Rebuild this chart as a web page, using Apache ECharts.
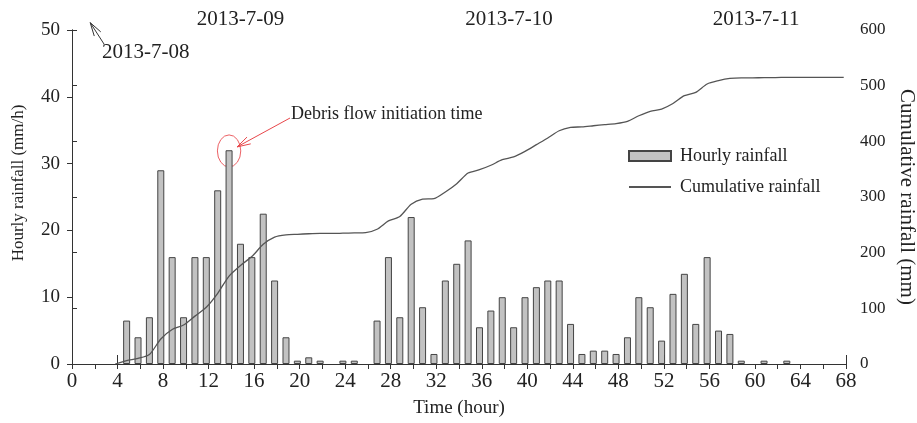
<!DOCTYPE html>
<html>
<head>
<meta charset="utf-8">
<title>Hourly and cumulative rainfall</title>
<script src="https://cdn.jsdelivr.net/npm/echarts@6/dist/echarts.min.js"></script>
<style>
    html, body { margin: 0; padding: 0; background: #fff; }
    #main { width: 917px; height: 423px; }
</style>
</head>
<body>
<div id="main"></div>
<script>
// hourly rainfall bars (hour index, mm/h); empty hours left out
var hours = [5, 6, 7, 8, 9, 10, 11, 12, 13, 14, 15, 16, 17, 18, 19, 20, 21, 22, 24, 25,
    27, 28, 29, 30, 31, 32, 33, 34, 35, 36, 37, 38, 39, 40, 41, 42, 43, 44, 45, 46,
    47, 48, 49, 50, 51, 52, 53, 54, 55, 56, 57, 58, 59, 61, 63];
var hourly = [6.5, 4, 7, 29, 16, 7, 16, 16, 26, 32, 18, 16, 22.5, 12.5, 4, 0.5, 1, 0.5, 0.5, 0.5,
    6.5, 16, 7, 22, 8.5, 1.5, 12.5, 15, 18.5, 5.5, 8, 10, 5.5, 10, 11.5, 12.5, 12.5, 6, 1.5, 2,
    2, 1.5, 4, 10, 8.5, 3.5, 10.5, 13.5, 6, 16, 5, 4.5, 0.5, 0.5, 0.5];

// cumulative rainfall curve (mm), hours 4..68
var cumHours = [4, 5, 6, 7, 8, 9, 10, 11, 12, 13, 14, 15, 16, 17, 18, 19, 20, 21, 22, 23,
    24, 25, 26, 27, 28, 29, 30, 31, 32, 33, 34, 35, 36, 37, 38, 39, 40, 41, 42, 43,
    44, 45, 46, 47, 48, 49, 50, 51, 52, 53, 54, 55, 56, 57, 58, 59, 60, 61, 62, 63,
    64, 65, 66, 67, 68];
var cumulative = [0, 6, 10, 17, 45, 62, 70, 86, 102, 127, 158, 177, 193, 215, 228, 232, 233, 234, 234.5, 234.5,
    235, 235.5, 236, 242, 257, 265, 287, 296, 297, 309, 324, 343, 349, 357, 367, 372, 382, 394, 406, 419,
    425, 426, 428, 430, 432, 436, 446, 454, 458, 468, 482, 488, 503, 509, 513, 514, 514, 514.5, 514.5, 515,
    515, 515, 515, 515, 515];

// date strip on the top axis
var dateLabels = ['2013-7-09', '2013-7-10', '2013-7-11'];
var dateLabelAt = [14.8, 38.4, 60.1];
var dateBounds = [0, 4, 28, 52, 68];

var shift = 0.2;   // marks sit a little left of the hour tick in the original
var serif = '"Liberation Serif", "Times New Roman", serif';
var ink = '#222';
var axisColor = '#333';

var barData = hours.map(function (h, i) { return [h - shift, hourly[i]]; });
var lineData = cumHours.map(function (h, i) { return [h - shift, cumulative[i]]; });

var chart = echarts.init(document.getElementById('main'));

var option = {
    animation: false,
    backgroundColor: '#fff',
    grid: { left: 72, right: 71, top: 30, bottom: 59, containLabel: false, outerBoundsMode: 'none' },
    legend: {
        orient: 'vertical',
        left: 628,
        top: 147,
        padding: 0,
        itemWidth: 42,
        itemHeight: 10,
        itemGap: 13,
        textStyle: { fontFamily: serif, fontSize: 18, color: ink, padding: [0, 0, 0, 4] },
        data: [
            { name: 'Hourly rainfall', icon: 'rect' },
            { name: 'Cumulative rainfall', itemStyle: { opacity: 0 } }
        ]
    },
    xAxis: [
        {
            type: 'value', min: 0, max: 68, interval: 4, position: 'bottom',
            name: 'Time (hour)', nameLocation: 'middle', nameGap: 35,
            nameTextStyle: { fontFamily: serif, fontSize: 19, color: ink },
            axisLine: { lineStyle: { color: axisColor, width: 1 } },
            axisTick: { length: 5, lineStyle: { color: axisColor } },
            minorTick: { show: true, splitNumber: 2, length: 5, lineStyle: { color: axisColor } },
            axisLabel: { fontFamily: serif, fontSize: 21, color: ink, margin: 7 },
            splitLine: { show: false }
        },
        {
            type: 'value', min: 0, max: 68, position: 'top',
            axisLine: { lineStyle: { color: axisColor, width: 1 } },
            axisTick: { customValues: dateBounds, length: 9, lineStyle: { color: axisColor } },
            axisLabel: {
                customValues: dateLabelAt, fontFamily: serif, fontSize: 21, color: ink, margin: 0,
                formatter: function (v) { return dateLabels[dateLabelAt.indexOf(v)]; }
            },
            splitLine: { show: false }
        }
    ],
    yAxis: [
        {
            type: 'value', min: 0, max: 50, interval: 10, position: 'left',
            name: 'Hourly rainfall (mm/h)', nameLocation: 'middle', nameGap: 45,
            nameTextStyle: { fontFamily: serif, fontSize: 17, color: ink, padding: [0, 0, 0, 28] },
            axisLine: { show: true, lineStyle: { color: axisColor, width: 1 } },
            axisTick: { show: true, length: 5, lineStyle: { color: axisColor } },
            axisLabel: { fontFamily: serif, fontSize: 19, color: ink, margin: 12 },
            splitLine: { show: false }
        },
        {
            type: 'value', min: 0, max: 600, interval: 100, position: 'right',
            name: 'Cumulative rainfall (mm)', nameLocation: 'middle', nameGap: 48, nameRotate: -90,
            nameTextStyle: { fontFamily: serif, fontSize: 21, color: ink },
            axisLine: { show: true, lineStyle: { color: axisColor, width: 1 } },
            axisTick: { show: true, length: 5, lineStyle: { color: axisColor } },
            axisLabel: { fontFamily: serif, fontSize: 17, color: ink, margin: 14 },
            splitLine: { show: false }
        }
    ],
    series: [
        {
            name: 'Hourly rainfall',
            type: 'bar',
            xAxisIndex: 0,
            yAxisIndex: 0,
            barWidth: 7,
            itemStyle: { color: '#c2c2c2', borderColor: '#444', borderWidth: 1 },
            data: barData
        },
        {
            name: 'Cumulative rainfall',
            type: 'line',
            xAxisIndex: 0,
            yAxisIndex: 1,
            symbol: 'none',
            smooth: 0.25,
            lineStyle: { color: '#555', width: 1.3 },
            itemStyle: { color: '#555' },
            data: lineData
        }
    ]
};
chart.setOption(option);

// arrow helper: shaft plus two wings at the tip
function arrow(tail, tip, color, wing) {
    var ang = Math.atan2(tail[1] - tip[1], tail[0] - tip[0]);
    var els = [{ type: 'line', shape: { x1: tail[0], y1: tail[1], x2: tip[0], y2: tip[1] }, style: { stroke: color, lineWidth: 1 } }];
    [-0.28, 0.28].forEach(function (d) {
        els.push({
            type: 'line',
            shape: { x1: tip[0], y1: tip[1], x2: tip[0] + wing * Math.cos(ang + d), y2: tip[1] + wing * Math.sin(ang + d) },
            style: { stroke: color, lineWidth: 1 }
        });
    });
    return els;
}

// annotations, anchored on the peak bar
var peak = chart.convertToPixel({ xAxisIndex: 0, yAxisIndex: 0 }, [14 - shift, 31.9]);
var redTip = [peak[0] + 8, peak[1] - 4];
var topTip = chart.convertToPixel({ xAxisIndex: 0, yAxisIndex: 0 }, [1.6, 51.1]);

var graphics = [
    {
        type: 'circle', shape: { cx: 0, cy: 0, r: 16 }, x: peak[0], y: peak[1], scaleX: 0.73,
        style: { fill: 'none', stroke: '#e8474b', lineWidth: 1 }
    },
    {
        type: 'text', x: 291, y: 114,
        style: { text: 'Debris flow initiation time', font: '18px ' + serif, fill: ink, verticalAlign: 'middle' }
    },
    {
        type: 'text', x: 102, y: 52,
        style: { text: '2013-7-08', font: '21px ' + serif, fill: ink, verticalAlign: 'middle' }
    }
].concat(arrow([290, 118], redTip, '#e8474b', 14))
 .concat(arrow([104, 44], topTip, '#333', 14));

chart.setOption({ graphic: graphics });
</script>
</body>
</html>
